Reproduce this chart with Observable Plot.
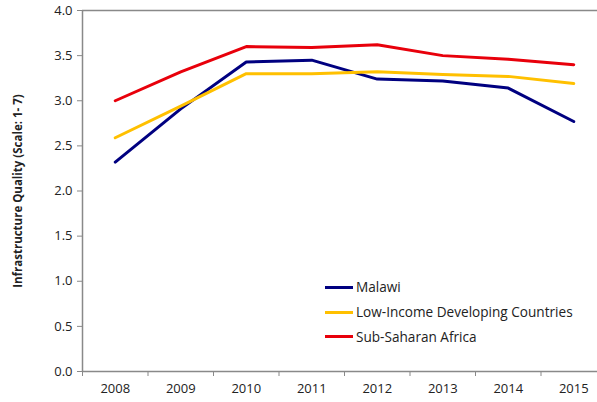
<!DOCTYPE html>
<html><head><meta charset="utf-8">
<script src="https://cdn.jsdelivr.net/npm/d3@7"></script>
<script src="https://cdn.jsdelivr.net/npm/@observablehq/plot@0.6"></script>
<style>
body{margin:0;background:#fff;overflow:hidden}
#wrap{position:relative;width:597px;height:402px;overflow:hidden;font-family:"Open Sans",sans-serif}
#wrap svg{max-width:none !important;display:block}
#legend{position:absolute;left:325px;top:275px;font-size:13.6px;color:#222;line-height:24.8px}
#legend .row{display:flex;align-items:center;white-space:nowrap}
#legend .sw{display:inline-block;width:28px;height:3px;margin-right:3px}
</style></head>
<body><div id="wrap"><div id="legend"></div></div>
<script>
const years = [2008, 2009, 2010, 2011, 2012, 2013, 2014, 2015];
const malawi = [2.32, 2.91, 3.43, 3.45, 3.24, 3.22, 3.14, 2.77];
const lidc = [2.59, 2.94, 3.30, 3.30, 3.32, 3.29, 3.27, 3.19];
const ssa = [3.00, 3.32, 3.60, 3.59, 3.62, 3.50, 3.46, 3.40];
const seriesNames = ["Malawi", "Low-Income Developing Countries", "Sub-Saharan Africa"];
const seriesColors = ["#000080", "#FFC000", "#E8000B"];
const yTicks = [0, 0.5, 1, 1.5, 2, 2.5, 3, 3.5, 4];
const yLabel = "Infrastructure Quality (Scale: 1- 7)";

const seriesValues = [malawi, lidc, ssa];
const data = [];
seriesNames.forEach((name, i) => years.forEach((yr, j) => data.push({series: name, year: yr, value: seriesValues[i][j]})));
const bounds = [years[0] - 0.5, ...years.map(y => y + 0.5)];
const axisColor = "#898989";

const chart = Plot.plot({
  width: 606, height: 402,
  marginTop: 10, marginBottom: 31, marginLeft: 82, marginRight: 0,
  style: {fontFamily: "Open Sans, sans-serif", fontSize: "13px", color: "#222", background: "#fff"},
  x: {domain: [bounds[0], bounds[bounds.length - 1]]},
  y: {domain: [yTicks[0], yTicks[yTicks.length - 1]]},
  color: {domain: seriesNames, range: seriesColors},
  marks: [
    Plot.ruleY([yTicks[yTicks.length - 1]], {stroke: axisColor, strokeWidth: 1.5}),
    Plot.axisY({ticks: yTicks, tickFormat: d3.format(".1f"), tickSize: 5, tickPadding: 5, stroke: axisColor, label: null, fill: "#222"}),
    Plot.ruleX([bounds[0]], {stroke: axisColor, strokeWidth: 1.5}),
    Plot.ruleY([yTicks[0]], {stroke: axisColor, strokeWidth: 1.5}),
    Plot.axisX({ticks: bounds, tickSize: 5, tickFormat: () => "", stroke: axisColor, label: null}),
    Plot.axisX({ticks: years, tickSize: 0, tickPadding: 12, tickFormat: d => String(d), label: null, fill: "#222"}),
    Plot.line(data, {x: "year", y: "value", z: "series", stroke: "series", strokeWidth: 3, strokeLinejoin: "round", strokeLinecap: "round"}),
    Plot.text([yLabel], {frameAnchor: "left", textAnchor: "middle", rotate: -90, dx: -64, fontWeight: "bold", fontSize: 11.5, fill: "#222"})
  ]
});
const wrap = document.getElementById("wrap");
wrap.insertBefore(chart, wrap.firstChild);

const legend = document.getElementById("legend");
seriesNames.forEach((name, i) => {
  const row = document.createElement("div");
  row.className = "row";
  const sw = document.createElement("span");
  sw.className = "sw";
  sw.style.background = seriesColors[i];
  row.appendChild(sw);
  row.appendChild(document.createTextNode(name));
  legend.appendChild(row);
});
</script></body></html>
